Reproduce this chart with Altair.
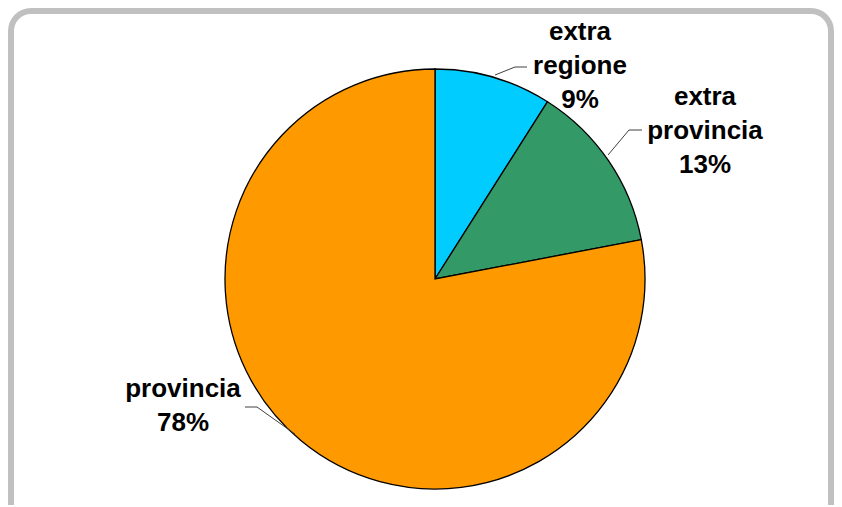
import altair as alt
import pandas as pd

categories = ["extra regione", "extra provincia", "provincia"]
values = [9, 13, 78]
colors = ["#00CCFF", "#339966", "#FF9900"]

df = pd.DataFrame({
    "categoria": categories,
    "valore": values,
    "ordine": list(range(len(categories))),
})
df["etichetta"] = [c.replace(" ", "\n") + "\n" + f"{v}%" for c, v in zip(categories, values)]

W, H = 826, 497
CX, CY, R = 427, 271, 210

base = alt.Chart(df)

frame = alt.Chart(pd.DataFrame({"a": [0]})).mark_rect(
    fill="white", stroke="#C0C0C0", strokeWidth=6, cornerRadius=20
).encode(
    x=alt.value(3), x2=alt.value(823), y=alt.value(3), y2=alt.value(530)
)

pie = base.mark_arc(radius=R, stroke="black", strokeWidth=1.3).encode(
    theta=alt.Theta("valore:Q", stack=True),
    order=alt.Order("ordine:Q"),
    color=alt.Color("categoria:N", scale=alt.Scale(domain=categories, range=colors), legend=None),
    x=alt.value(CX), y=alt.value(CY),
)

label_pos = {
    "extra regione": (572, 32),
    "extra provincia": (697, 97),
    "provincia": (175, 389),
}
texts = []
for cat, (tx, ty) in label_pos.items():
    texts.append(
        base.transform_filter(alt.datum.categoria == cat).mark_text(
            font="Liberation Sans", fontWeight="bold", fontSize=26, lineHeight=34,
            lineBreak="\n", align="center", baseline="alphabetic", color="black"
        ).encode(text="etichetta:N", x=alt.value(tx), y=alt.value(ty))
    )

leaders = [
    ((487, 67), (507, 59)), ((507, 59), (519, 59)),
    ((600, 147), (621, 122)), ((621, 122), (634, 122)),
    ((237, 399), (249, 399)), ((249, 399), (287, 426)),
]
rules = []
for (x1, y1), (x2, y2) in leaders:
    rules.append(
        alt.Chart(pd.DataFrame({"a": [0]})).mark_rule(color="#404040", strokeWidth=1).encode(
            x=alt.value(x1), y=alt.value(y1), x2=alt.value(x2), y2=alt.value(y2)
        )
    )

chart = alt.layer(frame, pie, *rules, *texts).properties(
    width=W, height=H, padding=0, autosize=alt.AutoSizeParams(type="none")
).configure_view(stroke=None)

chart.save("out.html", embed_options={"renderer": "svg", "actions": False})
